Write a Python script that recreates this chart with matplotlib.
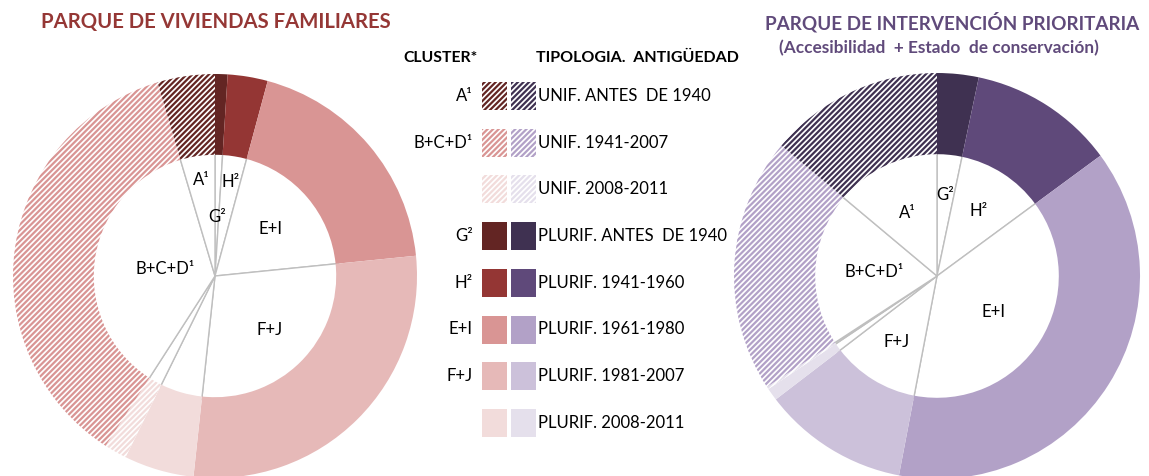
import numpy as np
import matplotlib
matplotlib.use("Agg")
from matplotlib import pyplot as plt
from matplotlib.patches import Rectangle

plt.rcParams['font.family'] = ['Lato', 'DejaVu Sans']
plt.rcParams['hatch.linewidth'] = 1.6

# slices, clockwise from 12 o'clock
tipologias = ['PLURIF. ANTES  DE 1940', 'PLURIF. 1941-1960', 'PLURIF. 1961-1980',
              'PLURIF. 1981-2007', 'PLURIF. 2008-2011', 'UNIF. 2008-2011',
              'UNIF. 1941-2007', 'UNIF. ANTES  DE 1940']
clusters = ['G²', 'H²', 'E+I', 'F+J', '', '', 'B+C+D¹', 'A¹']
unifamiliar = [False, False, False, False, False, True, True, True]

# % of dwellings
parque_viviendas = [1.0, 3.2, 19.2, 28.3, 5.6, 1.8, 36.3, 4.6]
parque_prioritario = [3.3, 11.6, 38.1, 11.6, 1.0, 0.2, 20.3, 13.9]

rojos = ['#632523', '#943634', '#D99594', '#E6B9B8', '#F2DCDB', '#F2DCDB', '#D99594', '#632523']
morados = ['#3F3151', '#5F497A', '#B2A1C7', '#CCC1DA', '#E5E0EC', '#E5E0EC', '#B2A1C7', '#3F3151']

orden_leyenda = [7, 6, 5, 0, 1, 2, 3, 4]

W, H = 1149, 476
fig = plt.figure(figsize=(W / 100, H / 100), dpi=100)


def donut(cx, cy, r, valores, colores, r_etiquetas):
    m = 1.05
    ax = fig.add_axes([(cx - r * m) / W, (H - cy - r * m) / H, 2 * r * m / W, 2 * r * m / H])
    # inner pie: white with grey dividers, its rim hidden under the ring
    centro, _ = ax.pie(valores, colors=['white'] * len(valores), radius=0.615, startangle=90,
                       counterclock=False, wedgeprops=dict(edgecolor='#BFBFBF', linewidth=1))
    anillo, _ = ax.pie(valores, colors=colores, radius=1, startangle=90, counterclock=False,
                       wedgeprops=dict(width=0.4, linewidth=0))
    for w, c, u in zip(anillo, colores, unifamiliar):
        w.set_zorder(3)
        if u:
            w.set_facecolor('white')
            w.set_edgecolor(c)
            w.set_linewidth(0)
            w.set_hatch('//////')
    v = np.array(valores)
    ang = np.deg2rad(90 - 360 * (np.cumsum(v) - v / 2) / v.sum())
    for a, lab, re in zip(ang, clusters, r_etiquetas):
        if lab:
            ax.text(re * np.cos(a), re * np.sin(a), lab, ha='center', va='center', fontsize=12, zorder=4)
    ax.set_xlim(-m, m)
    ax.set_ylim(-m, m)
    return ax


donut(215, 276, 202, parque_viviendas, rojos, [0.29, 0.47, 0.36, 0.38, 0, 0, 0.25, 0.48])
donut(937, 276, 203, parque_prioritario, morados, [0.40, 0.38, 0.33, 0.38, 0, 0, 0.31, 0.34])

# overlay for titles and legend
ov = fig.add_axes([0, 0, 1, 1])
ov.set_xlim(0, W)
ov.set_ylim(H, 0)
ov.axis('off')

ov.text(216, 22, 'PARQUE DE VIVIENDAS FAMILIARES', ha='center', va='center',
        fontsize=14.6, fontweight='bold', color='#953735')
ov.text(952, 22, 'PARQUE DE INTERVENCIÓN PRIORITARIA', ha='center', va='center',
        fontsize=13.6, fontweight='bold', color='#604A7B')
ov.text(939, 48, '(Accesibilidad  + Estado  de conservación)', ha='center', va='center',
        fontsize=12.4, fontweight='bold', color='#604A7B')

ov.text(440, 58, 'CLUSTER*', ha='center', va='center', fontsize=11.3, fontweight='bold')
ov.text(637, 58, 'TIPOLOGIA.  ANTIGÜEDAD', ha='center', va='center', fontsize=11.5, fontweight='bold')

for k, i in enumerate(orden_leyenda):
    y = 96 + k * 46.7
    for x0, col in ((482, rojos[i]), (511, morados[i])):
        if unifamiliar[i]:
            ov.add_patch(Rectangle((x0, y - 14), 25, 28, facecolor='white', edgecolor=col,
                                   linewidth=0, hatch='//////'))
        else:
            ov.add_patch(Rectangle((x0, y - 14), 25, 28, facecolor=col, linewidth=0))
    if clusters[i]:
        ov.text(473, y, clusters[i], ha='right', va='center', fontsize=12)
    ov.text(538, y, tipologias[i], ha='left', va='center', fontsize=12)

fig.savefig('out.png', dpi=100)
